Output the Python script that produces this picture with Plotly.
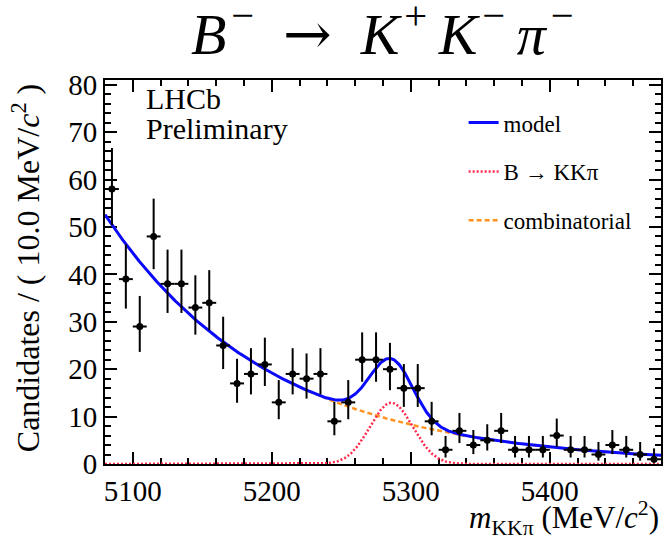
import math
import numpy as np
import plotly.graph_objects as go

# ---------------------------------------------------------------------------
# Data: B- -> K+ K- pi- candidates, 10 MeV/c^2 bins from 5080 to 5480 MeV/c^2
# ---------------------------------------------------------------------------
bin_centres = [5085, 5095, 5105, 5115, 5125, 5135, 5145, 5155, 5165, 5175,
               5185, 5195, 5205, 5215, 5225, 5235, 5245, 5255, 5265, 5275,
               5285, 5295, 5305, 5315, 5325, 5335, 5345, 5355, 5365, 5375,
               5385, 5395, 5405, 5415, 5425, 5435, 5445, 5455, 5465, 5475]
counts = [58, 39, 29, 48, 38, 38, 33, 34, 25, 17,
          19, 21, 13, 19, 18, 19, 9, 13, 22, 22,
          20, 16, 16, 9, 3, 7, 4, 5, 7, 3,
          3, 3, 6, 3, 3, 2, 4, 3, 2, 1]
bin_width = 10.0
mass_range = [5080, 5480]

# Fit result (per 10 MeV/c^2 bin)
comb_at_low_edge = 52.6     # combinatorial level at 5080 MeV/c^2
comb_slope = -0.0084        # exponential slope (1/(MeV/c^2))
sig_peak = 12.9             # signal Gaussian height
sig_mean = 5286.0           # signal mean (MeV/c^2)
sig_sigma = 15.5            # signal width (MeV/c^2)

legend_names = ["model", "B \u2192 KK\u03c0", "combinatorial"]


# ---------------------------------------------------------------------------
# Poisson 68.3% central intervals for the data points
# ---------------------------------------------------------------------------
def poisson_cdf(n, lam):
    if n < 0:
        return 0.0
    total = 0.0
    for k in range(n + 1):
        total += math.exp(-lam + k * math.log(lam) - math.lgamma(k + 1))
    return total


def solve(func, target, lo, hi):
    # func is decreasing in lambda
    for _ in range(100):
        mid = 0.5 * (lo + hi)
        if func(mid) > target:
            lo = mid
        else:
            hi = mid
    return 0.5 * (lo + hi)


alpha = (1 - 0.682689) / 2
err_hi, err_lo = [], []
for n in counts:
    up = solve(lambda l: poisson_cdf(n, l), alpha, 1e-9, n + 10 * math.sqrt(n + 1) + 10)
    lo = 0.0 if n == 0 else solve(lambda l: poisson_cdf(n - 1, l), 1 - alpha, 1e-9, n + 10)
    err_hi.append(up - n)
    err_lo.append(n - lo)

# ---------------------------------------------------------------------------
# Model curves
# ---------------------------------------------------------------------------
m = np.linspace(mass_range[0], mass_range[1], 801)
comb = comb_at_low_edge * np.exp(comb_slope * (m - mass_range[0]))
sig = sig_peak * np.exp(-0.5 * ((m - sig_mean) / sig_sigma) ** 2)
model = comb + sig

SERIF = "Liberation Serif"

fig = go.Figure()

# components first, total model drawn on top
fig.add_trace(go.Scatter(
    x=m, y=comb, mode="lines", name=legend_names[2], legendgroup="c", legendrank=3,
    line=dict(color="#ff9320", width=2.5, dash="5px,3px"),
))
fig.add_trace(go.Scatter(
    x=m, y=sig, mode="lines", name=legend_names[1], legendgroup="b", legendrank=2,
    line=dict(color="#ff2a4a", width=2.5, dash="2px,2px"),
))
fig.add_trace(go.Scatter(
    x=m, y=model, mode="lines", name=legend_names[0], legendgroup="a", legendrank=1,
    line=dict(color="#0a0aff", width=3),
))

fig.add_trace(go.Scatter(
    x=bin_centres, y=counts, mode="markers", showlegend=False,
    marker=dict(color="black", size=7, symbol="circle"),
    error_x=dict(type="constant", value=bin_width / 2, color="black", thickness=2, width=0),
    error_y=dict(type="data", symmetric=False, array=err_hi, arrayminus=err_lo,
                 color="black", thickness=2, width=0),
))

axis_common = dict(
    showgrid=False, zeroline=False, showline=True, linecolor="black", linewidth=2,
    mirror="allticks", ticks="inside", tickcolor="black", tickwidth=1.5,
    tickfont=dict(family=SERIF, size=29, color="black"),
    layer="below traces",
)
fig.update_xaxes(
    range=mass_range, tick0=5100, dtick=100, ticklen=12,
    minor=dict(dtick=20, ticklen=6, ticks="inside", tickcolor="black", tickwidth=1.5),
    **axis_common,
)
fig.update_yaxes(
    range=[0, 81], tick0=0, dtick=10, ticklen=12,
    minor=dict(dtick=2, ticklen=6, ticks="inside", tickcolor="black", tickwidth=1.5),
    **axis_common,
)

title_text = (
    "<i>B</i>\u200a<sup>\u2212</sup>\u2002"
    "<span style='font-family:DejaVu Serif'>\u2192</span>\u2002"
    "<i>K</i>\u200a<sup>+</sup>\u2009<i>K</i>\u200a<sup>\u2212</sup>\u2009"
    "<i>\u03c0</i>\u200a<sup>\u2212</sup>"
)

fig.update_layout(
    width=666, height=536,
    margin=dict(l=105, r=3, t=80, b=72),
    paper_bgcolor="white", plot_bgcolor="white",
    font=dict(family=SERIF, color="black"),
    title=dict(
        text=title_text,
        font=dict(family=SERIF, size=58, color="black"),
        x=0.574, xanchor="center", y=0.938, yanchor="middle", yref="container",
    ),
    legend=dict(
        x=0.645, y=0.945, xanchor="left", yanchor="top",
        bgcolor="rgba(0,0,0,0)", font=dict(family=SERIF, size=23, color="black"),
        tracegroupgap=16, itemwidth=30,
    ),
    annotations=[
        dict(text="LHCb", x=0.07, y=0.952, xref="paper", yref="paper",
             xanchor="left", yanchor="middle", showarrow=False,
             font=dict(family=SERIF, size=30, color="black")),
        dict(text="Preliminary", x=0.07, y=0.874, xref="paper", yref="paper",
             xanchor="left", yanchor="middle", showarrow=False,
             font=dict(family=SERIF, size=30, color="black")),
        dict(text="Candidates / ( 10.0 MeV/<i>c</i><sup>2</sup> )", x=-0.142, y=0.51,
             xref="paper", yref="paper", xanchor="center", yanchor="middle",
             textangle=-90, showarrow=False,
             font=dict(family=SERIF, size=32, color="black")),
        dict(text="<i>m</i><sub>KK\u03c0</sub> (MeV/<i>c</i><sup>2</sup>)", x=1.0, y=-0.14,
             xref="paper", yref="paper", xanchor="right", yanchor="middle",
             showarrow=False, font=dict(family=SERIF, size=31, color="black")),
    ],
)

fig.write_html("out.html")
